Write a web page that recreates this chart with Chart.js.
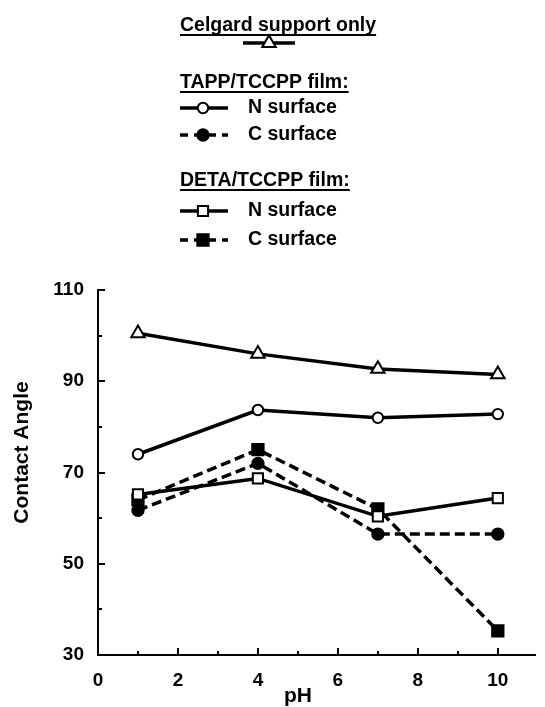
<!DOCTYPE html>
<html><head><meta charset="utf-8">
<script src="https://cdn.jsdelivr.net/npm/chart.js@4/dist/chart.umd.min.js"></script>
<style>html,body{margin:0;padding:0;background:#fff;} #wrap{width:545px;height:707px;position:relative;}</style>
</head><body><div id="wrap"><canvas id="c" width="545" height="707"></canvas></div>
<script>
// ---- data ----
const pH = [1, 4, 7, 10];
const celgard = [100.5, 96.0, 92.7, 91.5];
const tappN = [74.0, 83.7, 82.0, 82.8];
const tappC = [61.7, 72.0, 56.5, 56.5];
const detaN = [65.2, 68.7, 60.4, 64.4];
const detaC = [64.0, 75.0, 62.0, 35.3];
const yTickLabels = [30, 50, 70, 90, 110];
const xTickLabels = [0, 2, 4, 6, 8, 10];
const legendHeadings = ['Celgard support only', 'TAPP/TCCPP film:', 'DETA/TCCPP film:'];
const legendRowLabels = ['N surface', 'C surface'];
const seriesNames = ['Celgard support only', 'TAPP/TCCPP N surface', 'TAPP/TCCPP C surface', 'DETA/TCCPP N surface', 'DETA/TCCPP C surface'];
const xTitle = 'pH';
const yTitle = 'Contact Angle';

const FONT = '"Liberation Sans", Arial, Helvetica, sans-serif';
const pts = arr => pH.map((x, i) => ({x: x, y: arr[i]}));
const DASH = [10, 5];

const styles = [
  {pointStyle: 'triangle', pointRadius: 7.8, fill: '#fff', dash: []},
  {pointStyle: 'circle', pointRadius: 5.2, fill: '#fff', dash: []},
  {pointStyle: 'circle', pointRadius: 5.7, fill: '#000', dash: DASH},
  {pointStyle: 'rect', pointRadius: 7.2, fill: '#fff', dash: []},
  {pointStyle: 'rect', pointRadius: 8, fill: '#000', dash: DASH}
];
const series = [celgard, tappN, tappC, detaN, detaC];

const datasets = series.map((s, i) => ({
  label: seriesNames[i],
  data: pts(s),
  borderColor: '#000',
  borderWidth: 3.5,
  borderDash: styles[i].dash,
  pointStyle: styles[i].pointStyle,
  pointRadius: styles[i].pointRadius,
  pointHoverRadius: styles[i].pointRadius,
  pointBackgroundColor: styles[i].fill,
  pointBorderColor: '#000',
  pointBorderWidth: 2,
  fill: false,
  tension: 0
}));

function drawMarker(ctx, st, x, y) {
  ctx.save();
  ctx.setLineDash([]);
  ctx.lineWidth = 2;
  ctx.strokeStyle = '#000';
  ctx.fillStyle = st.fill;
  Chart.helpers.drawPoint(ctx, {pointStyle: st.pointStyle, rotation: 0, borderWidth: 2, radius: st.pointRadius}, x, y);
  ctx.restore();
}

const customPlugin = {
  id: 'custom',
  afterDraw(chart) {
    const ctx = chart.ctx;
    const xs = chart.scales.x, ys = chart.scales.y;
    const area = chart.chartArea;
    ctx.save();
    // inward tick marks
    ctx.strokeStyle = '#000';
    ctx.lineWidth = 2;
    for (let v = 30; v <= 110; v += 10) {
      const y = Math.round(ys.getPixelForValue(v));
      const len = yTickLabels.includes(v) ? 7 : 4;
      ctx.beginPath(); ctx.moveTo(area.left, y); ctx.lineTo(area.left + len, y); ctx.stroke();
    }
    for (let v = 1; v <= 10; v += 1) {
      const x = Math.round(xs.getPixelForValue(v));
      const len = xTickLabels.includes(v) ? 7 : 4;
      ctx.beginPath(); ctx.moveTo(x, area.bottom); ctx.lineTo(x, area.bottom - len); ctx.stroke();
    }
    // axis titles
    ctx.fillStyle = '#000';
    ctx.font = 'bold 21px ' + FONT;
    ctx.textAlign = 'center';
    ctx.textBaseline = 'middle';
    const xMid = (xs.getPixelForValue(0) + xs.getPixelForValue(10)) / 2;
    ctx.fillText(xTitle, xMid, 696);
    ctx.save();
    ctx.translate(22, (area.top + area.bottom) / 2 - 20);
    ctx.rotate(-Math.PI / 2);
    ctx.fillText(yTitle, 0, 0);
    ctx.restore();

    // legend
    ctx.font = 'bold 19.5px ' + FONT;
    ctx.textAlign = 'left';
    ctx.textBaseline = 'alphabetic';
    const headY = [31, 88, 186];
    const headX = 180;
    legendHeadings.forEach((h, i) => {
      ctx.fillText(h, headX, headY[i]);
      const w = ctx.measureText(h).width;
      ctx.fillRect(headX, headY[i] + 3, w, 2);
    });
    // Celgard symbol
    ctx.lineWidth = 3.5;
    ctx.setLineDash([]);
    ctx.beginPath(); ctx.moveTo(243, 43); ctx.lineTo(295, 43); ctx.stroke();
    drawMarker(ctx, styles[0], 269, 43);
    // film rows
    const rowY = [108, 135, 211, 240];
    const rowSeries = [1, 2, 3, 4];
    rowSeries.forEach((si, r) => {
      const y = rowY[r];
      ctx.lineWidth = 3.5;
      ctx.setLineDash(styles[si].dash.length ? [8, 6] : []);
      ctx.beginPath(); ctx.moveTo(180, y); ctx.lineTo(228, y); ctx.stroke();
      ctx.setLineDash([]);
      drawMarker(ctx, styles[si], 203, y);
      ctx.fillStyle = '#000';
      ctx.textBaseline = 'middle';
      ctx.fillText(legendRowLabels[r % 2], 248, y);
      ctx.textBaseline = 'alphabetic';
    });
    ctx.restore();
  }
};

new Chart(document.getElementById('c'), {
  type: 'line',
  data: {datasets: datasets},
  options: {
    responsive: false,
    animation: false,
    events: [],
    layout: {padding: {top: 290, left: 0, right: 0, bottom: 0}},
    plugins: {legend: {display: false}, tooltip: {enabled: false}, title: {display: false}},
    scales: {
      x: {
        type: 'linear', min: 0, max: 10.93,
        grid: {display: false, drawTicks: false},
        border: {display: true, color: '#000', width: 2},
        ticks: {
          stepSize: 1, includeBounds: false, autoSkip: false, maxRotation: 0,
          color: '#000', font: {family: FONT, size: 19, weight: 'bold'}, padding: 14,
          callback: v => xTickLabels.includes(v) ? String(v) : ''
        },
        afterFit: s => { s.height = 52; }
      },
      y: {
        type: 'linear', min: 30, max: 110,
        grid: {display: false, drawTicks: false},
        border: {display: true, color: '#000', width: 2},
        ticks: {
          stepSize: 10, autoSkip: false,
          color: '#000', font: {family: FONT, size: 19, weight: 'bold'}, padding: 14,
          callback: v => yTickLabels.includes(v) ? String(v) : ''
        },
        afterFit: s => { s.width = 98; }
      }
    }
  },
  plugins: [customPlugin]
});
</script>
</body></html>
